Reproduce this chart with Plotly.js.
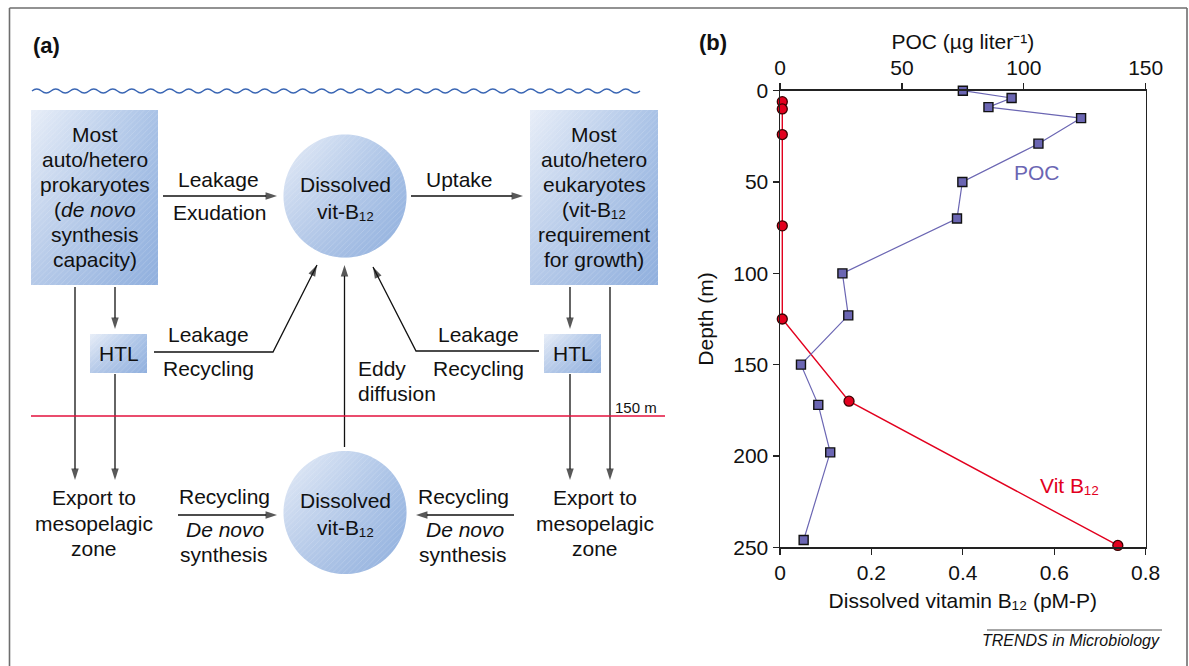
<!DOCTYPE html>
<html><head><meta charset="utf-8">
<script src="https://cdn.plot.ly/plotly-3.0.1.min.js"></script>
<style>html,body{margin:0;padding:0;background:#fff}#chart{width:1189px;height:666px}</style>
</head><body><div id="chart"></div>
<script>
// ---------------- Data (panel b) ----------------
const pocDepth = [0, 4, 9, 15, 29, 50, 70, 100, 123, 150, 172, 198, 246];
const pocValue = [75, 95, 85.5, 123.5, 106, 74.8, 72.6, 25.6, 28, 8.6, 15.7, 20.6, 9.7];
const b12Depth = [6, 10, 24, 74, 125, 170, 249];
const b12Value = [0.005, 0.005, 0.005, 0.005, 0.005, 0.151, 0.739];
const b12TickVals = [0, 0.2, 0.4, 0.6, 0.8];
const b12TickText = ['0', '0.2', '0.4', '0.6', '0.8'];
const pocTickVals = [0, 50, 100, 150];
const depthTickVals = [0, 50, 100, 150, 200, 250];

// ---------------- Styles ----------------
const F = 'Liberation Sans, Arial, Helvetica, sans-serif';
const INK = '#111111';
const POC_COLOR = '#6b66b3';
const B12_COLOR = '#e2001e';
const FS = 21;
const B12 = 'B\u2081\u2082';

// ---------------- Diagram geometry (panel a, pixel space) ----------------
const boxes = [
  {x0: 31, y0: 110, x1: 158, y1: 285},
  {x0: 530, y0: 110, x1: 658, y1: 285},
  {x0: 90, y0: 334, x1: 147, y1: 373},
  {x0: 544, y0: 334, x1: 601, y1: 373}
];
const circles = [
  {cx: 345, cy: 196, r: 61.5},
  {cx: 345, cy: 512.5, r: 61.5}
];
// arrows: polylines in pixel space, arrowhead at last point
const arrowPaths = [
  [[163, 196], [277, 196]],
  [[411, 196], [523, 196]],
  [[115, 287], [115, 329]],
  [[75, 287], [75, 480]],
  [[115, 374], [115, 480]],
  [[154, 352], [273, 352], [317, 265]],
  [[570, 287], [570, 329]],
  [[610, 287], [610, 480]],
  [[570, 374], [570, 480]],
  [[539, 351], [416, 351], [373, 267]],
  [[344.5, 447], [344.5, 265]],
  [[178, 515], [277, 515]],
  [[514, 515], [416, 515]]
];

const traces = [];
function addFilled(xs, ys, x0, x1, y0, y1) {
  traces.push({type: 'scatter', mode: 'none', x: xs, y: ys, xaxis: 'x3', yaxis: 'y3', fill: 'toself',
    fillgradient: {type: 'horizontal', start: x0, stop: x1, colorscale: [[0, '#e8eef8'], [1, '#a9c2e6']]},
    hoverinfo: 'skip', showlegend: false});
  traces.push({type: 'scatter', mode: 'none', x: xs, y: ys, xaxis: 'x3', yaxis: 'y3', fill: 'toself',
    fillgradient: {type: 'vertical', start: y0, stop: y1, colorscale: [[0, 'rgba(110,150,210,0)'], [1, 'rgba(110,150,210,0.42)']]},
    hoverinfo: 'skip', showlegend: false});
  traces.push({type: 'scatter', mode: 'none', x: xs, y: ys, xaxis: 'x3', yaxis: 'y3', fill: 'toself',
    fillcolor: 'rgba(0,0,0,0)',
    fillpattern: {shape: '/', fgcolor: '#ffffff', fgopacity: 0.2, size: 4, solidity: 0.2, fillmode: 'overlay'},
    hoverinfo: 'skip', showlegend: false});
}
boxes.forEach(b => addFilled([b.x0, b.x1, b.x1, b.x0, b.x0], [b.y0, b.y0, b.y1, b.y1, b.y0], b.x0, b.x1, b.y0, b.y1));
circles.forEach(c => {
  const xs = [], ys = [];
  for (let i = 0; i <= 120; i++) { const t = i / 120 * 2 * Math.PI; xs.push(c.cx + c.r * Math.cos(t)); ys.push(c.cy + c.r * Math.sin(t)); }
  addFilled(xs, ys, c.cx - c.r, c.cx + c.r, c.cy - c.r, c.cy + c.r);
});
arrowPaths.forEach(p => {
  traces.push({type: 'scatter', mode: 'lines+markers', x: p.map(q => q[0]), y: p.map(q => q[1]), xaxis: 'x3', yaxis: 'y3',
    line: {color: INK, width: 1.3},
    marker: {symbol: 'arrow', angleref: 'previous', color: INK, size: p.map((q, i) => i === p.length - 1 ? 12 : 0), line: {width: 0}},
    cliponaxis: false, hoverinfo: 'skip', showlegend: false});
});

// ---------------- Chart traces (panel b) ----------------
traces.push({type: 'scatter', mode: 'lines+markers', name: 'POC', x: pocValue, y: pocDepth, xaxis: 'x2', yaxis: 'y',
  line: {color: POC_COLOR, width: 1.2},
  marker: {symbol: 'square', size: 9, color: POC_COLOR, line: {color: '#111', width: 1.4}},
  cliponaxis: false, showlegend: false});
traces.push({type: 'scatter', mode: 'lines+markers', name: 'Vit B12', x: b12Value, y: b12Depth, xaxis: 'x', yaxis: 'y',
  line: {color: B12_COLOR, width: 1.4},
  marker: {symbol: 'circle', size: 10, color: B12_COLOR, line: {color: '#3a0000', width: 1.3}},
  cliponaxis: false, showlegend: false});

// ---------------- Annotations ----------------
const ann = [];
function txt(x, y, text, o) {
  ann.push(Object.assign({xref: 'x3', yref: 'y3', x: x, y: y, text: text, showarrow: false,
    xanchor: 'center', yanchor: 'middle', font: {family: F, size: FS, color: INK}}, o || {}));
}
const shapes = [];
function line(x0, y0, x1, y1, color, width) {
  shapes.push({type: 'line', xref: 'x3', yref: 'y3', x0: x0, y0: y0, x1: x1, y1: y1, line: {color: color || INK, width: width || 1.3}});
}

// panel labels
txt(46, 45, '<b>(a)</b>', {font: {family: F, size: 22, color: INK}});
txt(713, 42, '<b>(b)</b>', {font: {family: F, size: 22, color: INK}});

// box texts
const lbx = 94.5, rbx = 594;
const boxY = [134, 159, 184, 209, 234, 259];
['Most', 'auto/hetero', 'prokaryotes', '(<i>de novo</i>', 'synthesis', 'capacity)'].forEach((t, i) => txt(lbx, boxY[i], t));
['Most', 'auto/hetero', 'eukaryotes', '(vit-' + B12, 'requirement', 'for growth)'].forEach((t, i) => txt(rbx, boxY[i], t));
// circles
txt(345, 184, 'Dissolved'); txt(345, 211, 'vit-' + B12);
txt(345, 500, 'Dissolved'); txt(345, 527, 'vit-' + B12);
// HTL
txt(118.5, 353, 'HTL'); txt(572.5, 353, 'HTL');
// arrow labels
txt(218, 179, 'Leakage'); txt(219, 212, 'Exudation');
txt(459, 179, 'Uptake');
txt(208, 334, 'Leakage'); txt(208, 368, 'Recycling');
txt(478, 334, 'Leakage'); txt(478, 368, 'Recycling');
txt(356, 368, 'Eddy', {xanchor: 'left'}); txt(356, 393, 'diffusion', {xanchor: 'left'});
txt(224, 496, 'Recycling'); txt(225, 529, '<i>De novo</i>'); txt(224, 554, 'synthesis');
txt(463, 496, 'Recycling'); txt(465, 529, '<i>De novo</i>'); txt(463, 554, 'synthesis');
const expY = [497, 523, 548];
['Export to', 'mesopelagic', 'zone'].forEach((t, i) => { txt(93.5, expY[i], t); txt(595, expY[i], t); });
txt(636, 407, '150 m', {font: {family: F, size: 15, color: INK}});

// red 150 m line
line(31, 416, 665, 416, '#e3103c', 1.5);

// wave
let wp = 'M32,91';
for (let x = 32; x < 630; x += 19) {
  wp += ' Q' + (x + 4.75) + ',87 ' + (x + 9.5) + ',91 T' + (x + 19) + ',91';
}
shapes.push({type: 'path', xref: 'x3', yref: 'y3', path: wp, line: {color: '#3a66b4', width: 1.4}});

// frame
line(9.5, 8, 9.5, 666, '#6e6e6e', 1.6);
line(9.5, 8, 1187, 8, '#6e6e6e', 1.6);
line(1187, 8, 1187, 666, '#6e6e6e', 1.6);

// chart labels
ann.push({xref: 'x2', yref: 'y', x: 105.5, y: 45, text: 'POC', showarrow: false, font: {family: F, size: FS, color: POC_COLOR}});
ann.push({xref: 'x', yref: 'y', x: 0.634, y: 216, text: 'Vit ' + B12, showarrow: false, font: {family: F, size: FS, color: B12_COLOR}});
// source
txt(1162, 640, '<i>TRENDS in Microbiology</i>', {xanchor: 'right', font: {family: F, size: 16, color: INK}});
line(987, 630, 1162, 630, '#888888', 1.5);

const axisCommon = {showgrid: false, zeroline: false, showline: true, linecolor: '#222', linewidth: 1.5,
  ticks: 'outside', ticklen: 6, tickwidth: 1.3, tickcolor: '#222', tickfont: {family: F, size: FS, color: INK}};

const layout = {
  width: 1189, height: 666, margin: {l: 0, r: 0, t: 0, b: 0},
  paper_bgcolor: '#ffffff', plot_bgcolor: 'rgba(0,0,0,0)', showlegend: false,
  xaxis: Object.assign({}, axisCommon, {domain: [780 / 1189, 1145.7 / 1189], range: [0, 0.8], tickvals: b12TickVals, ticktext: b12TickText,
    anchor: 'y', side: 'bottom',
    title: {text: 'Dissolved vitamin ' + B12 + ' (pM-P)', font: {family: F, size: FS, color: INK}, standoff: 10}}),
  xaxis2: Object.assign({}, axisCommon, {overlaying: 'x', range: [0, 150], tickvals: pocTickVals, anchor: 'y', side: 'top',
    title: {text: 'POC (µg liter\u207B\u00B9)', font: {family: F, size: FS, color: INK}, standoff: 0}}),
  yaxis: Object.assign({}, axisCommon, {domain: [1 - 547.3 / 666, 1 - 90.7 / 666], range: [250, 0], tickvals: depthTickVals,
    anchor: 'x', mirror: true,
    title: {text: 'Depth (m)', font: {family: F, size: FS, color: INK}, standoff: 14}}),
  xaxis3: {domain: [0, 1], range: [0, 1189], visible: false, fixedrange: true, anchor: 'y3'},
  yaxis3: {domain: [0, 1], range: [666, 0], visible: false, fixedrange: true, anchor: 'x3'},
  annotations: ann,
  shapes: shapes
};

Plotly.newPlot('chart', traces, layout, {displayModeBar: false, staticPlot: true});
</script>
</body></html>
